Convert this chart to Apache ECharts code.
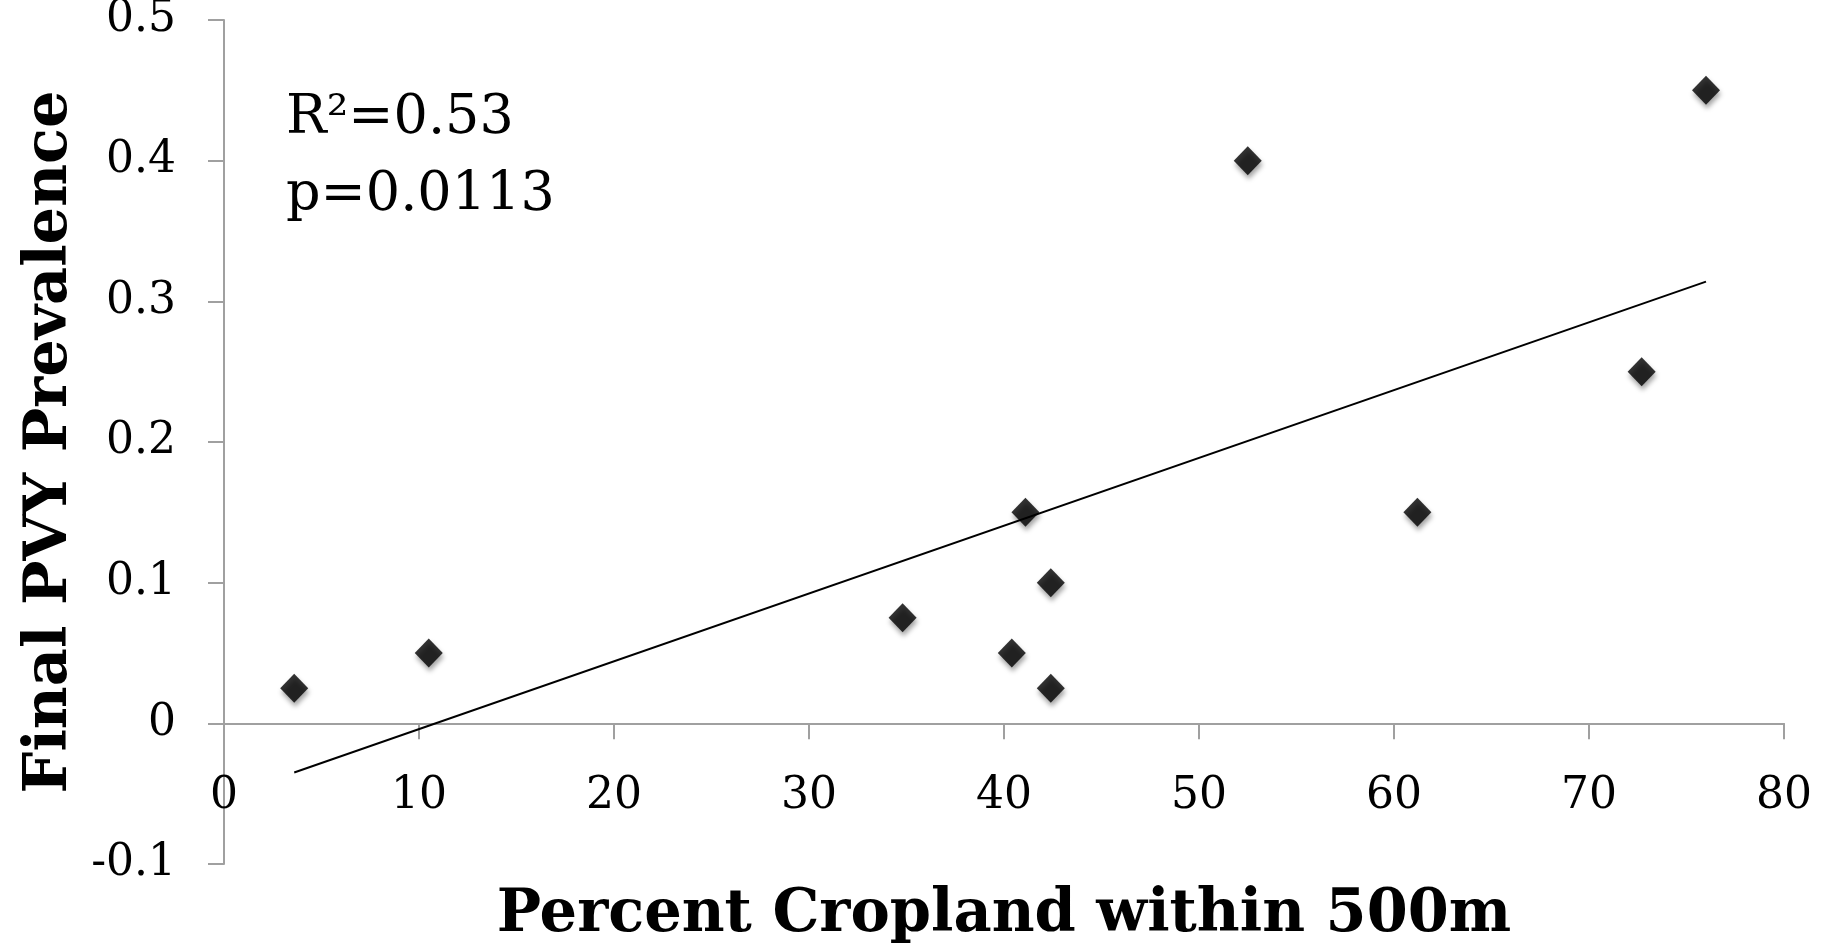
<!DOCTYPE html>
<html>
<head>
<meta charset="utf-8">
<script src="https://cdn.jsdelivr.net/npm/echarts@6/dist/echarts.min.js"></script>
<style>
html,body{margin:0;padding:0;background:#fff;}
#chart{width:1835px;height:943px;}
</style>
</head>
<body>
<div id="chart"></div>
<script>
// Data
var cropland = [3.6, 10.5, 34.8, 40.4, 41.1, 42.4, 42.4, 52.5, 61.2, 72.7, 76.0];
var prevalence = [0.025, 0.05, 0.075, 0.05, 0.15, 0.1, 0.025, 0.4, 0.15, 0.25, 0.45];
var trendX = [3.6, 76.0];
var trendY = [-0.035, 0.314];
var xTickLabels = ['0', '10', '20', '30', '40', '50', '60', '70', '80'];
var yTickLabels = ['-0.1', '0', '0.1', '0.2', '0.3', '0.4', '0.5'];
var annotation = ['R\u00b2=0.53', 'p=0.0113'];

var FONT = '"DejaVu Serif", "Liberation Serif", serif';
var W = 1835, H = 943;
var GRID = {left: 224, right: 51, top: 20, bottom: 79};
var yMin = -0.1, yMax = 0.5;
// distance of the zero line above the bottom of the grid
var zeroOffset = (H - GRID.top - GRID.bottom) * (0 - yMin) / (yMax - yMin);

var points = cropland.map(function (x, i) { return [x, prevalence[i]]; });
var trend = trendX.map(function (x, i) { return [x, trendY[i]]; });

var chart = echarts.init(document.getElementById('chart'), null, {renderer: 'canvas'});
chart.setOption({
  animation: false,
  backgroundColor: '#ffffff',
  title: {
    text: annotation.join('\n'),
    left: 281,
    top: 75,
    textStyle: {fontFamily: FONT, fontSize: 54, fontWeight: 'normal', color: '#000', lineHeight: 77}
  },
  grid: {left: GRID.left, right: GRID.right, top: GRID.top, bottom: GRID.bottom, containLabel: false, outerBoundsMode: 'none'},
  xAxis: {
    type: 'value',
    position: 'bottom',
    offset: -zeroOffset,
    min: 0, max: 80, interval: 10,
    name: 'Percent Cropland within 500m',
    nameLocation: 'middle',
    nameGap: 163,
    nameTextStyle: {fontFamily: FONT, fontSize: 59, fontWeight: 'bold', color: '#000'},
    axisLine: {onZero: false, lineStyle: {color: '#a0a0a0', width: 2}},
    axisTick: {show: true, inside: false, length: 16, lineStyle: {color: '#a0a0a0', width: 2}},
    axisLabel: {
      margin: 51, fontFamily: FONT, fontSize: 44, color: '#000',
      formatter: function (v) { return xTickLabels[Math.round(v / 10)]; }
    },
    splitLine: {show: false}
  },
  yAxis: {
    type: 'value',
    min: yMin, max: yMax, interval: 0.1,
    name: 'Final PVY Prevalence',
    nameLocation: 'middle',
    nameGap: 143,
    nameTextStyle: {fontFamily: FONT, fontSize: 59, fontWeight: 'bold', color: '#000'},
    axisLine: {show: true, onZero: false, lineStyle: {color: '#a0a0a0', width: 2}},
    axisTick: {show: true, inside: false, length: 16, lineStyle: {color: '#a0a0a0', width: 2}},
    axisLabel: {
      margin: 48, fontFamily: FONT, fontSize: 44, color: '#000',
      padding: [14, 0, 0, 0],
      formatter: function (v) { return yTickLabels[Math.round(v * 10) + 1]; }
    },
    splitLine: {show: false}
  },
  series: [
    {
      type: 'line',
      data: trend,
      showSymbol: false,
      symbol: 'none',
      lineStyle: {color: '#000', width: 2},
      silent: true,
      z: 1
    },
    {
      type: 'scatter',
      data: points,
      symbol: 'diamond',
      symbolSize: [28, 29],
      itemStyle: {
        color: '#000',
        shadowColor: 'rgba(0,0,0,0.45)',
        shadowBlur: 5,
        shadowOffsetX: 1,
        shadowOffsetY: 4
      },
      z: 2
    }
  ]
});
</script>
</body>
</html>
